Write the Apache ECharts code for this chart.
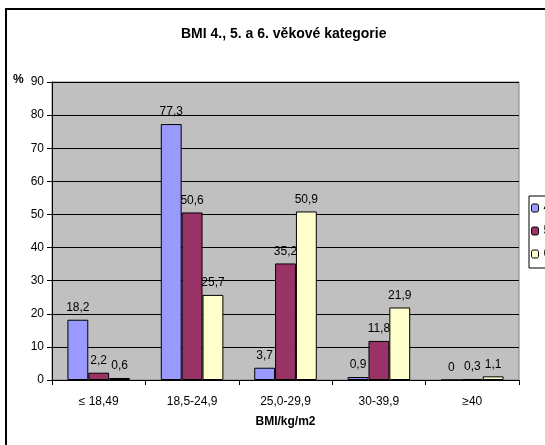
<!DOCTYPE html>
<html>
<head>
<meta charset="utf-8">
<script src="https://cdn.jsdelivr.net/npm/echarts@6/dist/echarts.min.js"></script>
<style>
html,body{margin:0;padding:0;background:#fff;}
#c{width:545px;height:445px;}
</style>
</head>
<body>
<div id="c"></div>
<script>
var categories = ['≤ 18,49', '18,5-24,9', '25,0-29,9', '30-39,9', '≥40'];
var seriesNames = ['4. věková kategorie', '5. věková kategorie', '6. věková kategorie'];
var s4 = [18.2, 77.3, 3.7, 0.9, 0];
var s5 = [2.2, 50.6, 35.2, 11.8, 0.3];
var s6 = [0.6, 25.7, 50.9, 21.9, 1.1];
var colors = ['#9999FF', '#993366', '#FFFFCC'];
var yTicks = [0, 10, 20, 30, 40, 50, 60, 70, 80, 90];

var font = 'Liberation Sans, Arial, sans-serif';
function fmt(p){ return String(p.value).replace('.', ','); }
function mk(name, data, color){
  return {
    name: name, type: 'bar', data: data,
    barGap: '0%', barCategoryGap: '33%',
    itemStyle: {color: color, borderColor: '#000', borderWidth: 1},
    label: {show: true, position: 'top', distance: 6, formatter: fmt,
      color: '#000', fontFamily: font, fontSize: 12},
    emphasis: {disabled: true}
  };
}
var chart = echarts.init(document.getElementById('c'), null, {renderer: 'canvas'});
chart.setOption({
  animation: false,
  backgroundColor: '#fff',
  title: {text: 'BMI 4., 5. a 6. věkové kategorie', left: 181, top: 27, padding: 0,
    textStyle: {fontFamily: font, fontSize: 14, fontWeight: 'bold', color: '#000'}},
  graphic: [
    {type: 'rect', shape: {x: 6, y: 9, width: 700, height: 600}, z: -10,
      style: {fill: 'none', stroke: '#000', lineWidth: 2}},
    {type: 'text', left: 13, top: 74, style: {text: '%', font: 'bold 12px ' + font, fill: '#000'}}
  ],
  legend: {
    orient: 'vertical', left: 529, top: 196,
    data: seriesNames,
    itemWidth: 7, itemHeight: 8, itemGap: 11,
    padding: [6, 6, 8, 2],
    borderColor: '#000', borderWidth: 1,
    backgroundColor: '#fff',
    textStyle: {fontFamily: font, fontSize: 12, color: '#000'},
    itemStyle: {borderColor: '#000', borderWidth: 1}
  },
  grid: {left: 52, right: 26, top: 82, bottom: 65, show: true,
    backgroundColor: '#C0C0C0', borderColor: '#808080', borderWidth: 1},
  xAxis: {
    type: 'category', data: categories,
    name: 'BMI/kg/m2', nameLocation: 'middle', nameGap: 36,
    nameTextStyle: {fontFamily: font, fontSize: 12, fontWeight: 'bold', color: '#000'},
    axisLine: {lineStyle: {color: '#000', width: 1}},
    axisTick: {show: true, length: 5, lineStyle: {color: '#000'}},
    axisLabel: {fontFamily: font, fontSize: 12, color: '#000', margin: 16}
  },
  yAxis: {
    type: 'value', min: 0, max: 90, interval: 10,
    axisLine: {show: true, lineStyle: {color: '#000', width: 1}},
    axisTick: {show: true, length: 5, lineStyle: {color: '#000'}},
    axisLabel: {fontFamily: font, fontSize: 12, color: '#000', margin: 8,
      formatter: function(v){ return yTicks.indexOf(v) >= 0 ? String(v) : ''; }},
    splitLine: {show: true, lineStyle: {color: '#000', width: 1}}
  },
  series: [mk(seriesNames[0], s4, colors[0]), mk(seriesNames[1], s5, colors[1]), mk(seriesNames[2], s6, colors[2])]
});
</script>
</body>
</html>
